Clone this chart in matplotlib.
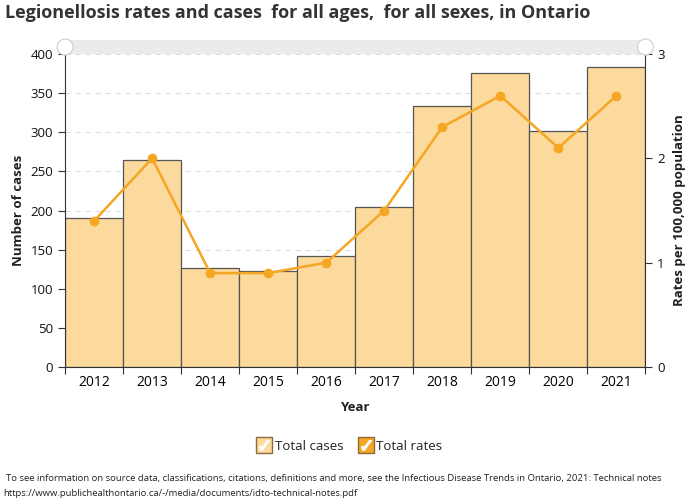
import matplotlib.pyplot as plt
from matplotlib.lines import Line2D
from matplotlib.patches import FancyBboxPatch, Circle
from matplotlib.legend_handler import HandlerTuple

plt.rcParams['font.family'] = ['Open Sans', 'DejaVu Sans']

years = ['2012', '2013', '2014', '2015', '2016', '2017', '2018', '2019', '2020', '2021']
cases = [190, 264, 126, 123, 142, 205, 334, 376, 302, 383]
rates = [1.4, 2.0, 0.9, 0.9, 1.0, 1.5, 2.3, 2.6, 2.1, 2.6]

bar_fill = '#fcd99d'
bar_edge = '#555555'
line_col = '#f5a623'
text_col = '#333333'

fig = plt.figure(figsize=(7, 5), dpi=100)
ax = fig.add_axes([0.093, 0.266, 0.829, 0.626])
x = list(range(len(years)))

ax.bar(x, cases, width=1.0, color=bar_fill, edgecolor=bar_edge, linewidth=0.9, zorder=2)
ax.set_xlim(-0.5, len(years) - 0.5)
ax.set_ylim(0, 400)
ax.set_yticks(range(0, 401, 50))
ax.grid(axis='y', color='#dddddd', linestyle=(0, (5, 4)), linewidth=0.8, zorder=0)
ax.set_axisbelow(True)

# tick marks sit on bar edges, labels at bar centres
ax.set_xticks([i - 0.5 for i in range(len(years) + 1)])
ax.set_xticklabels([])
ax.set_xticks(x, minor=True)
ax.set_xticklabels(years, minor=True)
ax.tick_params(axis='x', which='minor', length=0, pad=6)
ax.tick_params(axis='x', which='major', length=5, color=text_col)
ax.tick_params(axis='both', labelsize=9.5, labelcolor='#111111')
ax.tick_params(axis='y', length=5, color=text_col)

for s in ['top', 'right']:
    ax.spines[s].set_visible(False)
ax.spines['left'].set_color(text_col)
ax.spines['bottom'].set_color(text_col)

ax.set_ylabel('Number of cases', fontsize=9.5, fontweight='bold', color='#222222', labelpad=4)
ax.set_xlabel('Year', fontsize=9.5, fontweight='bold', color='#222222')
ax.xaxis.set_label_coords(0.5, -0.11)

ax2 = ax.twinx()
ax2.plot(x, rates, color=line_col, linewidth=1.8, marker='o', markersize=6, zorder=3)
ax2.set_ylim(0, 3)
ax2.set_yticks([0, 1, 2, 3])
ax2.tick_params(axis='y', length=5, labelsize=9.5, color=text_col, labelcolor='#111111')
for s in ['top', 'left', 'bottom']:
    ax2.spines[s].set_visible(False)
ax2.spines['right'].set_color(text_col)
ax2.set_ylabel('Rates per 100,000 population', fontsize=9.5, fontweight='bold', color='#222222', labelpad=6)

# range slider strip across the top of the plot
fig.patches.append(FancyBboxPatch((0.093, 0.892), 0.829, 0.028, boxstyle='square,pad=0',
                                  transform=fig.transFigure, facecolor='#ebebeb', edgecolor='none'))
for hx in [0.093, 0.922]:
    c = Circle((hx * 700, 0.906 * 500), 8, transform=None, facecolor='white',
               edgecolor='#cccccc', linewidth=0.8, zorder=5)
    fig.patches.append(c)
    fig.text(hx, 0.906, '||', fontsize=6, color='#aaaaaa', ha='center', va='center')

fig.text(0.007, 0.975, 'Legionellosis rates and cases  for all ages,  for all sexes, in Ontario',
         fontsize=13, fontweight='bold', color=text_col, ha='left', va='center')

# legend with checkbox-style markers
check = '$\u2713$'
h1 = (Line2D([], [], marker='s', markersize=12, markerfacecolor=bar_fill, markeredgecolor='#8b6b3a', linestyle='none'),
      Line2D([], [], marker=check, markersize=7, color='white', linestyle='none'))
h2 = (Line2D([], [], marker='s', markersize=12, markerfacecolor=line_col, markeredgecolor='#8b6b3a', linestyle='none'),
      Line2D([], [], marker=check, markersize=7, color='white', linestyle='none'))
fig.legend([h1, h2], ['Total cases', 'Total rates'], handler_map={tuple: HandlerTuple(ndivide=1, pad=0)},
           loc='center', bbox_to_anchor=(0.5, 0.108), ncol=2, frameon=False, fontsize=9.5,
           handlelength=1.0, handletextpad=0.3, columnspacing=1.2, labelcolor='#222222')

fig.text(0.008, 0.042, 'To see information on source data, classifications, citations, definitions and more, '
         'see the Infectious Disease Trends in Ontario, 2021: Technical notes',
         fontsize=6.8, color='#222222', ha='left', va='center')
fig.text(0.005, 0.014, 'https://www.publichealthontario.ca/-/media/documents/idto-technical-notes.pdf',
         fontsize=6.8, color='#222222', ha='left', va='center')

fig.savefig('out.png', dpi=100)
